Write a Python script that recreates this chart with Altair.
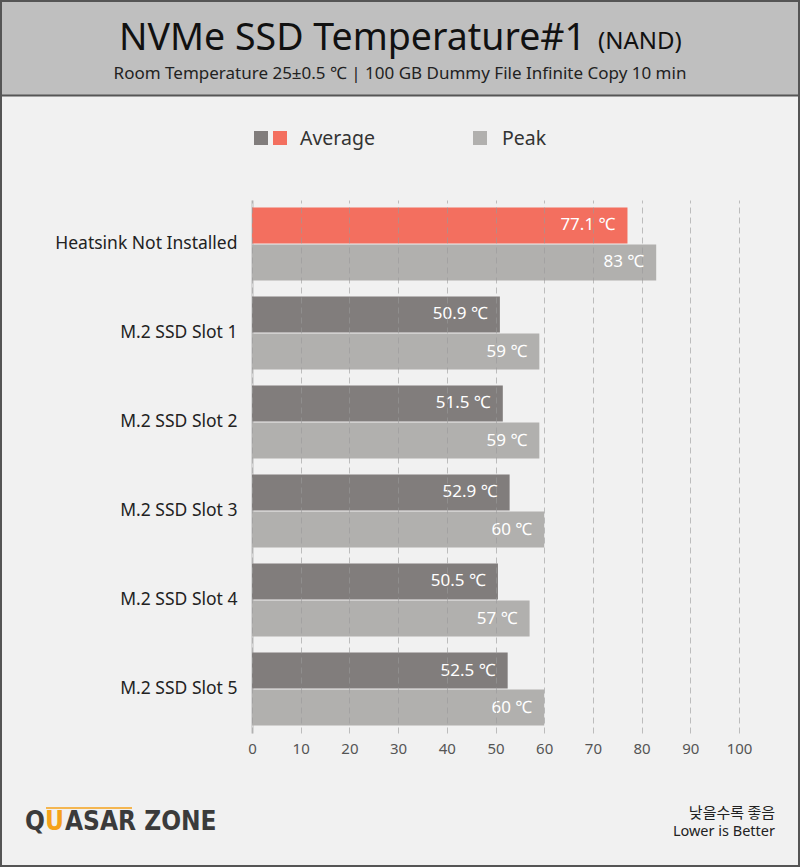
import altair as alt
import pandas as pd

# Bar chart data
categories = [
    "Heatsink Not Installed",
    "M.2 SSD Slot 1",
    "M.2 SSD Slot 2",
    "M.2 SSD Slot 3",
    "M.2 SSD Slot 4",
    "M.2 SSD Slot 5",
]
average_temp = [77.1, 50.9, 51.5, 52.9, 50.5, 52.5]
peak_temp = [83, 59, 59, 60, 57, 60]
x_ticks = [0, 10, 20, 30, 40, 50, 60, 70, 80, 90, 100]

rows = []
for cat, a, p in zip(categories, average_temp, peak_temp):
    rows.append({"category": cat, "series": "Average", "value": a,
                 "label": f"{a:.1f} ℃"})
    rows.append({"category": cat, "series": "Peak", "value": p,
                 "label": f"{p:g} ℃"})
df = pd.DataFrame(rows)

FONT = "Noto Sans, Noto Sans CJK KR"
KFONT = "Noto Sans CJK KR"
W, H = 487, 533
PAD = {"left": 252, "top": 200, "right": 61, "bottom": 134}

base = alt.Chart(df).transform_calculate(
    key="datum.series == 'Peak' ? 'peak' : (datum.category == 'Heatsink Not Installed' ? 'hot' : 'avg')"
)

y_enc = alt.Y(
    "category:N",
    sort=categories,
    scale=alt.Scale(paddingInner=0.18, paddingOuter=0.084),
    axis=alt.Axis(
        title=None, ticks=False, labelPadding=15, labelFontSize=17.5,
        labelColor="#222222", labelFont=FONT, domainColor="#d6d6d6",
        domainWidth=3, labelLimit=300,
    ),
)
yoff_enc = alt.YOffset(
    "series:N", sort=["Average", "Peak"],
    scale=alt.Scale(paddingInner=0.03, paddingOuter=0),
)
x_enc = alt.X(
    "value:Q",
    scale=alt.Scale(domain=[0, 100], nice=False),
    axis=alt.Axis(
        title=None, values=x_ticks, ticks=False, domain=False,
        labelFontSize=15, labelColor="#555555", labelFont=FONT,
        labelPadding=8, labelFlush=False,
        gridColor="#9a9a9a", gridOpacity=0.6, gridDash=[6, 4], gridWidth=1,
        zindex=1,
    ),
)

bars = base.mark_bar().encode(
    x=x_enc,
    y=y_enc,
    yOffset=yoff_enc,
    color=alt.Color(
        "key:N",
        scale=alt.Scale(domain=["hot", "avg", "peak"],
                        range=["#f36f5f", "#817d7c", "#b1b0ae"]),
        legend=None,
    ),
)

labels = base.mark_text(
    align="right", baseline="middle", dx=-12, color="white",
    fontSize=17, font=FONT,
).encode(
    x="value:Q",
    y=alt.Y("category:N", sort=categories),
    yOffset=alt.YOffset("series:N", sort=["Average", "Peak"]),
    text="label:N",
)

one = alt.Data(values=[{}])


def box(x, x2, y, y2, **kw):
    return alt.Chart(one).mark_rect(**kw).encode(
        x=alt.value(x), x2=alt.value(x2), y=alt.value(y), y2=alt.value(y2))


def txt(s, x, y, **kw):
    return alt.Chart(one).mark_text(text=s, **kw).encode(
        x=alt.value(x), y=alt.value(y))


left, right = -PAD["left"], W + PAD["right"]
top, bottom = -PAD["top"], H + PAD["bottom"]

# Header band
header = box(left, right, top, -104.5, color="#bfbfbf")
header_line = alt.Chart(one).mark_rule(color="#555555", strokeWidth=2).encode(
    x=alt.value(left), x2=alt.value(right), y=alt.value(-104.5))

title_main = txt("NVMe SSD Temperature#1", 334, -150, align="right",
                 baseline="alphabetic", fontSize=37.5, font=FONT, color="#111111")
title_tag = txt("(NAND)", 346, -151, align="left", baseline="alphabetic",
                fontSize=24, font=FONT, color="#111111")
subtitle = txt("Room Temperature 25±0.5 ℃  |  100 GB Dummy File Infinite Copy 10 min",
               148, -121, align="center", baseline="alphabetic",
               fontSize=17, font=FONT, color="#222222")

# Legend
leg_avg1 = box(2, 16, -69, -55, color="#817d7c")
leg_avg2 = box(21, 35, -69, -55, color="#f36f5f")
leg_peak = box(221, 235, -69, -55, color="#b1b0ae")
leg_avg_t = txt("Average", 48, -55, align="left", baseline="alphabetic",
                fontSize=19.5, font=FONT, color="#333333")
leg_peak_t = txt("Peak", 250, -55, align="left", baseline="alphabetic",
                 fontSize=19.5, font=FONT, color="#333333")

# Footer
note_ko = txt("낮을수록 좋음", 523, 618, align="right", baseline="alphabetic",
              fontSize=15, font=KFONT, color="#222222")
note_en = txt("Lower is Better", 523, 636, align="right", baseline="alphabetic",
              fontSize=14.5, font=FONT, color="#222222")

LOGO_FONT = "DejaVu Sans Condensed, DejaVu Sans, sans-serif"
logo_q = txt("Q", -227, 630, align="left", baseline="alphabetic", fontSize=26,
             fontWeight="bold", font=LOGO_FONT, color="#3b3b3b")
logo_u = txt("U", -207, 630, align="left", baseline="alphabetic", fontSize=26,
             fontWeight="bold", font=LOGO_FONT, color="#f5a21b")
logo_rest = txt("ASAR ZONE", -187, 630, align="left", baseline="alphabetic",
                fontSize=26, fontWeight="bold", font=LOGO_FONT, color="#3b3b3b")
logo_bar = alt.Chart(one).mark_rule(color="#f5a21b", strokeWidth=1.5).encode(
    x=alt.value(-206), x2=alt.value(-120), y=alt.value(608))

# Outer frame
frame = box(left + 1, right - 1, top + 1, bottom - 1,
            fill=None, stroke="#555555", strokeWidth=2)

chart = alt.layer(
    header, header_line, bars, labels,
    title_main, title_tag, subtitle,
    leg_avg1, leg_avg2, leg_peak, leg_avg_t, leg_peak_t,
    note_ko, note_en, logo_bar, logo_q, logo_u, logo_rest, frame,
).properties(
    width=W, height=H, padding=PAD, autosize="none", background="#f1f1f1",
).configure_view(stroke=None)

chart.save("out.html", embed_options={"renderer": "svg", "actions": False})
